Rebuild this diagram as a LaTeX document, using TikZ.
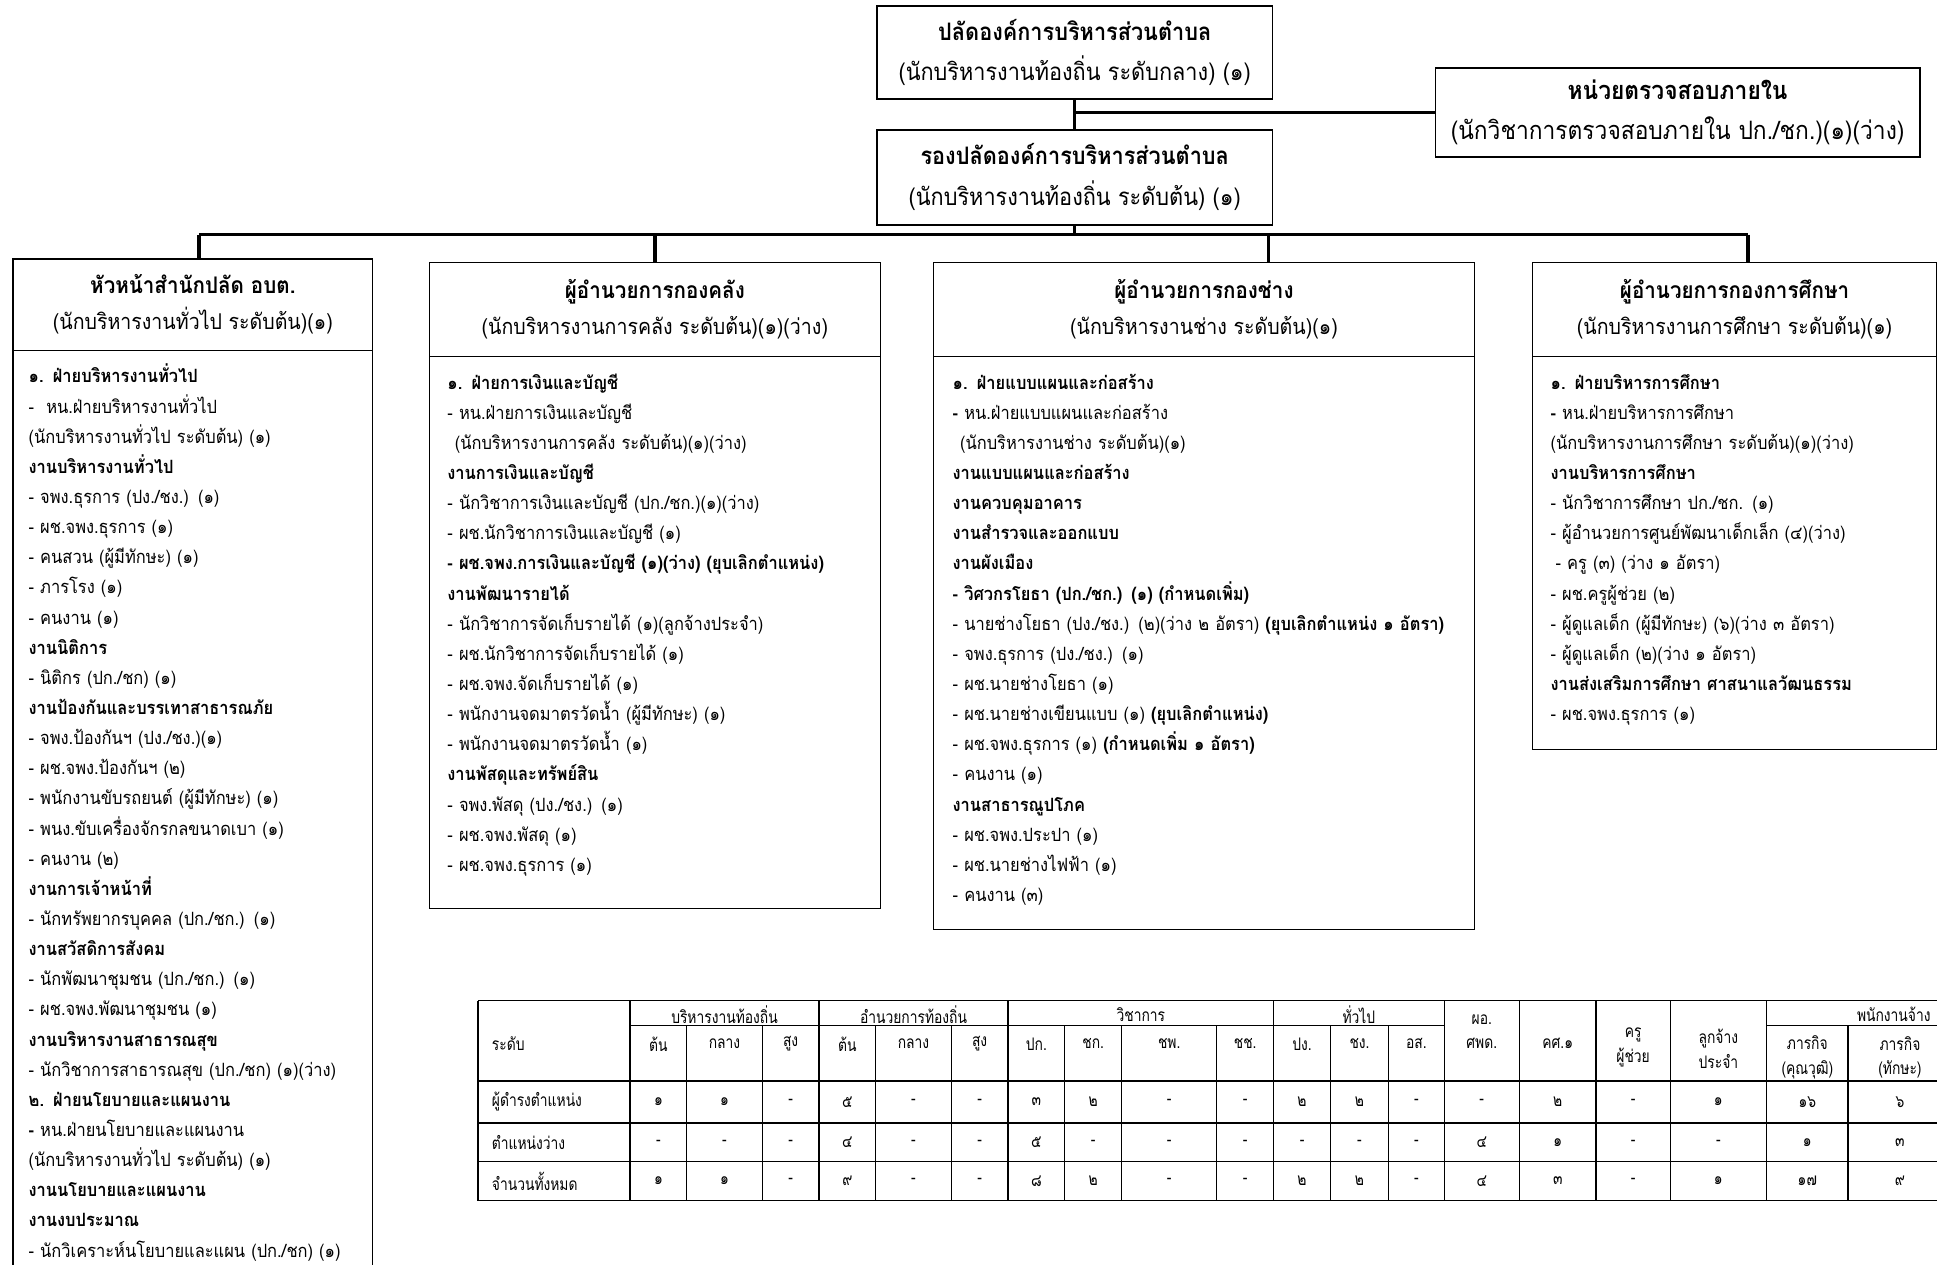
\documentclass[tikz,border=0pt]{standalone}
\usepackage{fontspec}
\setmainfont{Loma}[Script=Thai, FakeStretch=0.9]
\newfontfamily\tablefont{Loma}[Script=Thai, FakeStretch=0.8]
\usetikzlibrary{positioning}
\tikzset{
  chartbox/.style={draw, line width=1.4pt, align=center, inner sep=0pt,
    minimum width=320, minimum height=76, font=\fontsize{19.5}{33}\selectfont},
  deptframe/.style={draw, line width=1.2pt, anchor=north west, inner sep=0pt},
  depthead/.style={draw, line width=1.2pt, anchor=north, align=center, inner sep=0pt,
    minimum height=#1, font=\fontsize{17.6}{29}\selectfont},
  depttitle/.style={font=\fontsize{18.5}{29}\selectfont\bfseries},
  deptlist/.style={anchor=base west, inner sep=0pt, align=left, text width=#1,
    font=\fontsize{14.8}{24.4}\selectfont},
  orgline/.style={line width=2.8pt},
  tblline/.style={line width=1pt},
  tblcell/.style={inner sep=0pt, align=center, font=\tablefont\fontsize{14}{20}\selectfont},
}

\begin{document}
\begin{tikzpicture}[x=1pt, y=-1pt]
  \useasboundingbox (0,0) rectangle (1568,1024);
  \fill[white] (0,0) rectangle (1568,1024);
  % ผู้บริหาร
  \node[chartbox, minimum height=75] (palad) at (870,42.5)
    {\textbf{ปลัดองค์การบริหารส่วนตำบล}\\(นักบริหารงานท้องถิ่น ระดับกลาง) (๑)};
  \node[chartbox, minimum height=77] (rong) at (870,143.5)
    {\textbf{รองปลัดองค์การบริหารส่วนตำบล}\\(นักบริหารงานท้องถิ่น ระดับต้น) (๑)};
  \node[chartbox, minimum width=392, minimum height=72, font=\fontsize{20.5}{32}\selectfont] (audit) at (1358,91)
    {\textbf{หน่วยตรวจสอบภายใน}\\(นักวิชาการตรวจสอบภายใน ปก./ชก.)(๑)(ว่าง)};
  \draw[orgline] (palad) -- (rong);
  \draw[orgline] (palad.south |- audit.west) -- (audit.west);

  % สำนักปลัด
  \node[deptframe, minimum width=291, minimum height=831] (frameA) at (10,209) {};
  \node[depthead=74, minimum width=291] (headA) at (frameA.north)
    {{\fontsize{18.5}{29}\selectfont\bfseries หัวหน้าสำนักปลัด อบต.}\\(นักบริหารงานทั่วไป ระดับต้น)(๑)};
  \node[deptlist=280] (listA) at (23,310) {%
    \textbf{๑. ฝ่ายบริหารงานทั่วไป}\\
    -~~หน.ฝ่ายบริหารงานทั่วไป\\
    (นักบริหารงานทั่วไป ระดับต้น) (๑)\\
    \textbf{งานบริหารงานทั่วไป}\\
    - จพง.ธุรการ (ปง./ชง.) (๑)\\
    - ผช.จพง.ธุรการ (๑)\\
    - คนสวน (ผู้มีทักษะ) (๑)\\
    - ภารโรง (๑)\\
    - คนงาน (๑)\\
    \textbf{งานนิติการ}\\
    - นิติกร (ปก./ชก) (๑)\\
    \textbf{งานป้องกันและบรรเทาสาธารณภัย}\\
    - จพง.ป้องกันฯ (ปง./ชง.)(๑)\\
    - ผช.จพง.ป้องกันฯ (๒)\\
    - พนักงานขับรถยนต์ (ผู้มีทักษะ) (๑)\\
    - พนง.ขับเครื่องจักรกลขนาดเบา (๑)\\
    - คนงาน (๒)\\
    \textbf{งานการเจ้าหน้าที่}\\
    - นักทรัพยากรบุคคล (ปก./ชก.) (๑)\\
    \textbf{งานสวัสดิการสังคม}\\
    - นักพัฒนาชุมชน (ปก./ชก.) (๑)\\
    - ผช.จพง.พัฒนาชุมชน (๑)\\
    \textbf{งานบริหารงานสาธารณสุข}\\
    - นักวิชาการสาธารณสุข (ปก./ชก) (๑)(ว่าง)\\
    \textbf{๒. ฝ่ายนโยบายและแผนงาน}\\
    \textbf{-} หน.ฝ่ายนโยบายและแผนงาน\\
    (นักบริหารงานทั่วไป ระดับต้น) (๑)\\
    \textbf{งานนโยบายและแผนงาน}\\
    \textbf{งานงบประมาณ}\\
    - นักวิเคราะห์นโยบายและแผน (ปก./ชก) (๑)};

  % กองคลัง
  \node[deptframe, minimum width=365, minimum height=523] (frameB) at (347,212) {};
  \node[depthead=76, minimum width=365] (headB) at (frameB.north)
    {{\fontsize{18.5}{29}\selectfont\bfseries ผู้อำนวยการกองคลัง}\\(นักบริหารงานการคลัง ระดับต้น)(๑)(ว่าง)};
  \node[deptlist=345] (listB) at (362,315) {%
    \textbf{๑. ฝ่ายการเงินและบัญชี}\\
    - หน.ฝ่ายการเงินและบัญชี\\
    \hspace*{6pt}(นักบริหารงานการคลัง ระดับต้น)(๑)(ว่าง)\\
    \textbf{งานการเงินและบัญชี}\\
    - นักวิชาการเงินและบัญชี (ปก./ชก.)(๑)(ว่าง)\\
    - ผช.นักวิชาการเงินและบัญชี (๑)\\
    \textbf{- ผช.จพง.การเงินและบัญชี (๑)(ว่าง) (ยุบเลิกตำแหน่ง)}\\
    \textbf{งานพัฒนารายได้}\\
    - นักวิชาการจัดเก็บรายได้ (๑)(ลูกจ้างประจำ)\\
    - ผช.นักวิชาการจัดเก็บรายได้ (๑)\\
    - ผช.จพง.จัดเก็บรายได้ (๑)\\
    - พนักงานจดมาตรวัดน้ำ (ผู้มีทักษะ) (๑)\\
    - พนักงานจดมาตรวัดน้ำ (๑)\\
    \textbf{งานพัสดุและทรัพย์สิน}\\
    - จพง.พัสดุ (ปง./ชง.) (๑)\\
    - ผช.จพง.พัสดุ (๑)\\
    - ผช.จพง.ธุรการ (๑)};

  % กองช่าง
  \node[deptframe, minimum width=438, minimum height=540] (frameC) at (755,212) {};
  \node[depthead=76, minimum width=438] (headC) at (frameC.north)
    {{\fontsize{18.5}{29}\selectfont\bfseries ผู้อำนวยการกองช่าง}\\(นักบริหารงานช่าง ระดับต้น)(๑)};
  \node[deptlist=420] (listC) at (771,315) {%
    \textbf{๑. ฝ่ายแบบแผนและก่อสร้าง}\\
    \textbf{-} หน.ฝ่ายแบบแผนและก่อสร้าง\\
    \hspace*{6pt}(นักบริหารงานช่าง ระดับต้น)(๑)\\
    \textbf{งานแบบแผนและก่อสร้าง}\\
    \textbf{งานควบคุมอาคาร}\\
    \textbf{งานสำรวจและออกแบบ}\\
    \textbf{งานผังเมือง}\\
    \textbf{- วิศวกรโยธา (ปก./ชก.) (๑) (กำหนดเพิ่ม)}\\
    - นายช่างโยธา (ปง./ชง.) (๒)(ว่าง ๒ อัตรา) \textbf{(ยุบเลิกตำแหน่ง ๑ อัตรา)}\\
    - จพง.ธุรการ (ปง./ชง.) (๑)\\
    - ผช.นายช่างโยธา (๑)\\
    - ผช.นายช่างเขียนแบบ (๑) \textbf{(ยุบเลิกตำแหน่ง)}\\
    - ผช.จพง.ธุรการ (๑) \textbf{(กำหนดเพิ่ม ๑ อัตรา)}\\
    - คนงาน (๑)\\
    \textbf{งานสาธารณูปโภค}\\
    - ผช.จพง.ประปา (๑)\\
    - ผช.นายช่างไฟฟ้า (๑)\\
    - คนงาน (๓)};

  % กองการศึกษา
  \node[deptframe, minimum width=327, minimum height=394] (frameD) at (1240,212) {};
  \node[depthead=76, minimum width=327] (headD) at (frameD.north)
    {{\fontsize{18.5}{29}\selectfont\bfseries ผู้อำนวยการกองการศึกษา}\\(นักบริหารงานการศึกษา ระดับต้น)(๑)};
  \node[deptlist=310] (listD) at (1255,315) {%
    \textbf{๑. ฝ่ายบริหารการศึกษา}\\
    \textbf{-} หน.ฝ่ายบริหารการศึกษา\\
    (นักบริหารงานการศึกษา ระดับต้น)(๑)(ว่าง)\\
    \textbf{งานบริหารการศึกษา}\\
    - นักวิชาการศึกษา ปก./ชก. (๑)\\
    - ผู้อำนวยการศูนย์พัฒนาเด็กเล็ก (๔)(ว่าง)\\
    \hspace*{4pt}- ครู (๓) (ว่าง ๑ อัตรา)\\
    - ผช.ครูผู้ช่วย (๒)\\
    - ผู้ดูแลเด็ก (ผู้มีทักษะ) (๖)(ว่าง ๓ อัตรา)\\
    - ผู้ดูแลเด็ก (๒)(ว่าง ๑ อัตรา)\\
    \textbf{งานส่งเสริมการศึกษา ศาสนาแลวัฒนธรรม}\\
    - ผช.จพง.ธุรการ (๑)};

  % สายบังคับบัญชา
  \coordinate (busL) at (161,190);
  \coordinate (busR) at (1415,190);
  \coordinate (dropC) at (1027,190);
  \draw[orgline] (rong.south) -- (rong.south |- busL);
  \draw[orgline] (busL) -- (busR);
  \draw[orgline] (busL) -- (busL |- frameA.north);
  \draw[orgline] (frameB.north |- busL) -- (frameB.north);
  \draw[orgline] (dropC) -- (dropC |- frameC.north);
  \draw[orgline] (busR) -- (busR |- frameD.north);

  % ตารางอัตรากำลัง
  \draw[tblline] (387,810) -- (1580,810);
  \draw[tblline] (510,830) -- (1169,830) (1430,830) -- (1580,830);
  \foreach \y in {875,909,940,972}
    \draw[tblline] (387,\y) -- (1580,\y);
  \foreach \x in {387,510,663,816,1031,1169,1230,1292,1352,1430}
    \draw[tblline] (\x,810) -- (\x,972);
  \foreach \x in {556,617,709,770,862,908,985,1077,1124,1496}
    \draw[tblline] (\x,830) -- (\x,972);

  \node[tblcell, anchor=west] (lvl) at (398,845) {ระดับ};
  \node[tblcell] (g1) at (586.5,821) {บริหารงานท้องถิ่น};
  \node[tblcell] (g2) at (739.5,821) {อำนวยการท้องถิ่น};
  \node[tblcell] (g3) at (923.5,821) {วิชาการ};
  \node[tblcell] (g4) at (1100,821) {ทั่วไป};
  \node[tblcell] (g5) at (1533,821) {พนักงานจ้าง};
  \foreach \cx/\t [count=\k] in {533/ต้น, 586.5/กลาง, 640/สูง, 686/ต้น, 739.5/กลาง,
      793/สูง, 839/ปก., 885/ชก., 946.5/ชพ., 1008/ชช., 1054/ปง., 1100.5/ชง., 1146.5/อส.}
    \node[tblcell] (sub\k) at (\cx,845) {\t};
  \node[tblcell] (pos) at (1199.5,835) {ผอ.\\ศพด.};
  \node[tblcell] (ks) at (1261,845) {คศ.๑};
  \node[tblcell] (kru) at (1322,848) {ครู\\ผู้ช่วย};
  \node[tblcell] (luk) at (1391,849) {ลูกจ้าง\\ประจำ};
  \node[tblcell] (pk1) at (1463,856) {ภารกิจ\\(คุณวุฒิ)};
  \node[tblcell] (pk2) at (1538,856) {ภารกิจ\\(ทักษะ)};

  \node[tblcell, anchor=west] (row1) at (398,892) {ผู้ดำรงตำแหน่ง};
  \node[tblcell, anchor=west] (row2) at (398,925) {ตำแหน่งว่าง};
  \node[tblcell, anchor=west] (row3) at (398,956) {จำนวนทั้งหมด};
  \foreach \cx/\a/\b/\c [count=\k] in {533/๑/-/๑, 586.5/๑/-/๑, 640/-/-/-, 686/๕/๔/๙,
      739.5/-/-/-, 793/-/-/-, 839/๓/๕/๘, 885/๒/-/๒, 946.5/-/-/-, 1008/-/-/-,
      1054/๒/-/๒, 1100.5/๒/-/๒, 1146.5/-/-/-, 1199.5/-/๔/๔, 1261/๒/๑/๓,
      1322/-/-/-, 1391/๑/-/๑, 1463/๑๖/๑/๑๗, 1538/๖/๓/๙} {
    \node[tblcell] (a\k) at (\cx,892) {\a};
    \node[tblcell] (b\k) at (\cx,925) {\b};
    \node[tblcell] (c\k) at (\cx,956) {\c};
  }
\end{tikzpicture}
\end{document}
